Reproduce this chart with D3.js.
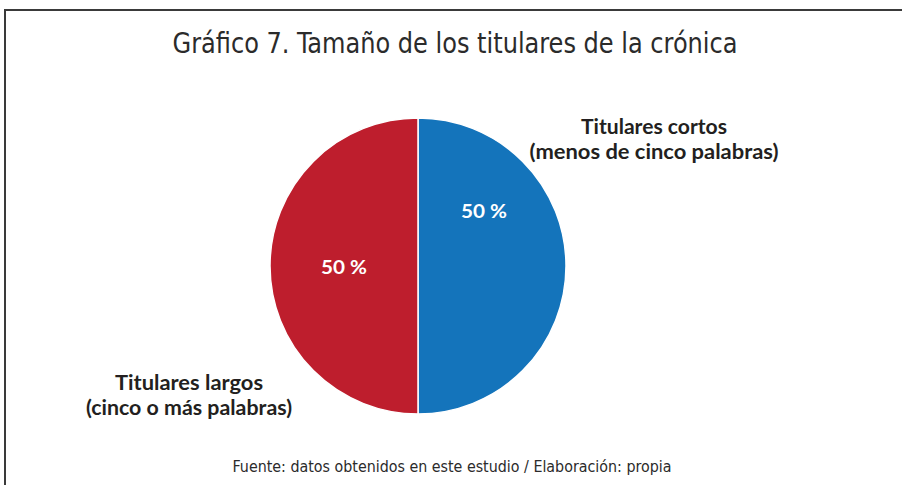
<!DOCTYPE html>
<html>
<head>
<meta charset="utf-8">
<script src="https://cdn.jsdelivr.net/npm/d3@7/dist/d3.min.js"></script>
<style>
  html, body { margin: 0; padding: 0; background: #fff; }
  svg { display: block; }
</style>
</head>
<body>
<svg id="canvas"></svg>
<script>
'use strict';

var categories = ['Titulares cortos', 'Titulares largos'];
var subtitles = ['(menos de cinco palabras)', '(cinco o más palabras)'];
var values = [50, 50];
var colors = ['#1474bb', '#be1e2d'];

var TITLE = 'Gráfico 7. Tamaño de los titulares de la crónica';
var SOURCE = 'Fuente: datos obtenidos en este estudio / Elaboración: propia';

var WIDTH = 902, HEIGHT = 485;
var CX = 418, CY = 266, RADIUS = 148;

// where the percent and the category labels sit, relative to the slice centroid
var pctOffsets = [[-8, -55], [0, 1]];
var nameAnchors = [[654, 134], [189, 390]];
var nameWidths = [[146, 249], [148, 206]];

function FormatPct(v) {
  return v + ' %';
}

function RenderChart() {
  var svg = d3.select('#canvas')
      .attr('width', WIDTH)
      .attr('height', HEIGHT);

  // frame, runs off the right and bottom edges
  svg.append('rect')
      .attr('x', 5)
      .attr('y', 10)
      .attr('width', 920)
      .attr('height', 500)
      .attr('fill', 'none')
      .attr('stroke', '#3a3a3a')
      .attr('stroke-width', 2);

  svg.append('text')
      .text(TITLE)
      .attr('x', 455)
      .attr('y', 53)
      .attr('text-anchor', 'middle')
      .attr('font-family', '"DejaVu Sans Condensed", "Liberation Sans Narrow", sans-serif')
      .attr('font-size', 28)
      .attr('textLength', 565)
      .attr('lengthAdjust', 'spacingAndGlyphs')
      .attr('fill', '#2b2b2b');

  var pie = d3.pie().sort(null).value(function(d) { return d; });
  var arc = d3.arc().innerRadius(0).outerRadius(RADIUS);
  var slices = pie(values);

  var g = svg.append('g')
      .attr('transform', 'translate(' + [CX, CY] + ')');

  g.selectAll('path')
      .data(slices)
    .enter().append('path')
      .attr('d', arc)
      .attr('fill', function(d, i) { return colors[i]; })
      .attr('stroke', '#fff')
      .attr('stroke-width', 1.5);

  g.selectAll('text.pct')
      .data(slices)
    .enter().append('text')
      .attr('class', 'pct')
      .text(function(d) { return FormatPct(d.data); })
      .attr('transform', function(d, i) {
        var c = arc.centroid(d);
        return 'translate(' + [c[0] + pctOffsets[i][0], c[1] + pctOffsets[i][1]] + ')';
      })
      .attr('text-anchor', 'middle')
      .attr('dy', '0.35em')
      .attr('font-family', 'Lato, "Open Sans", sans-serif')
      .attr('font-weight', 'bold')
      .attr('font-size', 19)
      .attr('textLength', 46)
      .attr('lengthAdjust', 'spacingAndGlyphs')
      .attr('fill', '#fff');

  categories.forEach(function(name, i) {
    var lines = [name, subtitles[i]];
    lines.forEach(function(line, j) {
      svg.append('text')
          .text(line)
          .attr('x', nameAnchors[i][0])
          .attr('y', nameAnchors[i][1] + j * 25)
          .attr('text-anchor', 'middle')
          .attr('font-family', 'Lato, "Open Sans", sans-serif')
          .attr('font-weight', 'bold')
          .attr('font-size', 21)
          .attr('textLength', nameWidths[i][j])
          .attr('lengthAdjust', 'spacingAndGlyphs')
          .attr('fill', '#231f20');
    });
  });

  svg.append('text')
      .text(SOURCE)
      .attr('x', 452)
      .attr('y', 472)
      .attr('text-anchor', 'middle')
      .attr('font-family', '"DejaVu Sans Condensed", "Liberation Sans Narrow", sans-serif')
      .attr('font-size', 15.5)
      .attr('textLength', 439)
      .attr('lengthAdjust', 'spacingAndGlyphs')
      .attr('fill', '#2b2b2b');
}

RenderChart();
</script>
</body>
</html>
